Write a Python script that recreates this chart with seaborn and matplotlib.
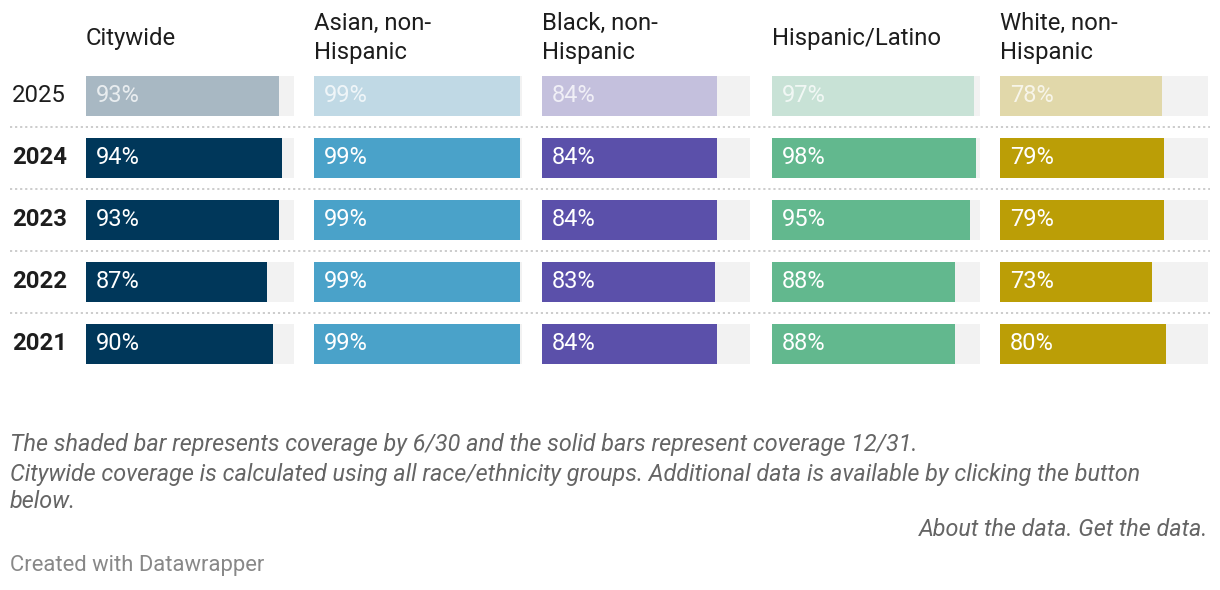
import matplotlib
matplotlib.use("Agg")
import matplotlib.pyplot as plt
import seaborn as sns
import pandas as pd

sns.set_theme(style="white")
plt.rcParams['font.family'] = ['Roboto', 'DejaVu Sans']

years = ["2025", "2024", "2023", "2022", "2021"]
groups = ["Citywide", "Asian, non-\nHispanic", "Black, non-\nHispanic", "Hispanic/Latino", "White, non-\nHispanic"]
citywide = [93, 94, 93, 87, 90]
asian = [99, 99, 99, 99, 99]
black = [84, 84, 84, 83, 84]
hispanic = [97, 98, 95, 88, 88]
white = [78, 79, 79, 73, 80]
series = [citywide, asian, black, hispanic, white]
full_colors = ["#00375a", "#4aa2c9", "#5b50aa", "#62b88e", "#bb9e06"]
light_colors = ["#a8b8c3", "#c0d9e5", "#c4c0dd", "#c8e2d6", "#e1d8aa"]

W, H = 1220, 590
fig = plt.figure(figsize=(W / 100, H / 100), dpi=100)
fig.patch.set_facecolor("white")

def fx(px):
    return px / W

def fy(py):
    return 1 - py / H

row_pitch = 62
top_px = 96 - row_pitch / 2
bottom_px = 344 + row_pitch / 2

# background axis for separators and year labels
bg = fig.add_axes([0, fy(bottom_px), 1, fy(top_px) - fy(bottom_px)])
bg.set_xlim(0, W)
bg.set_ylim(len(years) - 0.5, -0.5)
bg.axis("off")
for i in range(len(years) - 1):
    bg.plot([10, 1210], [i + 0.5, i + 0.5], color="#c8c8c8", lw=1.3,
            linestyle=(0, (1.2, 1.6)), solid_capstyle="butt")
for i, y in enumerate(years):
    bg.text(12, i, y, ha="left", va="center", fontsize=17.2, color="#1d1d1d",
            fontweight="normal" if i == 0 else "bold")

col_left = [86, 314, 542, 772, 1000]
col_width = 208
bar_frac = 40 / row_pitch

for gi, (name, vals) in enumerate(zip(groups, series)):
    ax = fig.add_axes([fx(col_left[gi]), fy(bottom_px), fx(col_width), fy(top_px) - fy(bottom_px)])
    df = pd.DataFrame({"year": years, "value": vals, "full": [100] * len(years)})
    sns.barplot(data=df, x="full", y="year", order=years, color="#f2f2f2",
                width=bar_frac, orient="h", ax=ax, saturation=1, linewidth=0)
    pal = {y: (light_colors[gi] if i == 0 else full_colors[gi]) for i, y in enumerate(years)}
    sns.barplot(data=df, x="value", y="year", hue="year", order=years, hue_order=years,
                palette=pal, dodge=False, legend=False, width=bar_frac, orient="h",
                ax=ax, saturation=1, linewidth=0)
    ax.set_xlim(0, 100)
    ax.set_ylim(len(years) - 0.5, -0.5)
    ax.axis("off")
    for i, v in enumerate(vals):
        ax.text(10 / col_width * 100, i, f"{v}%", ha="left", va="center",
                fontsize=17.0, color="#ffffff", alpha=0.75 if i == 0 else 1.0)
    fig.text(fx(col_left[gi]), fy(38), name, ha="left", va="center",
             fontsize=17.2, color="#1d1d1d", linespacing=1.3)

note_kw = dict(ha="left", va="center", fontsize=16.8, color="#656565", style="italic")
fig.text(fx(10), fy(445), "The shaded bar represents coverage by 6/30 and the solid bars represent coverage 12/31.", **note_kw)
fig.text(fx(10), fy(474), "Citywide coverage is calculated using all race/ethnicity groups. Additional data is available by clicking the button", **note_kw)
fig.text(fx(10), fy(501), "below.", **note_kw)
fig.text(fx(1208), fy(529), "About the data. Get the data.", ha="right", va="center",
         fontsize=16.8, color="#656565", style="italic")
fig.text(fx(10), fy(566), "Created with Datawrapper", ha="left", va="center",
         fontsize=15.8, color="#888888")

fig.savefig("out.png", dpi=100, facecolor="white")
